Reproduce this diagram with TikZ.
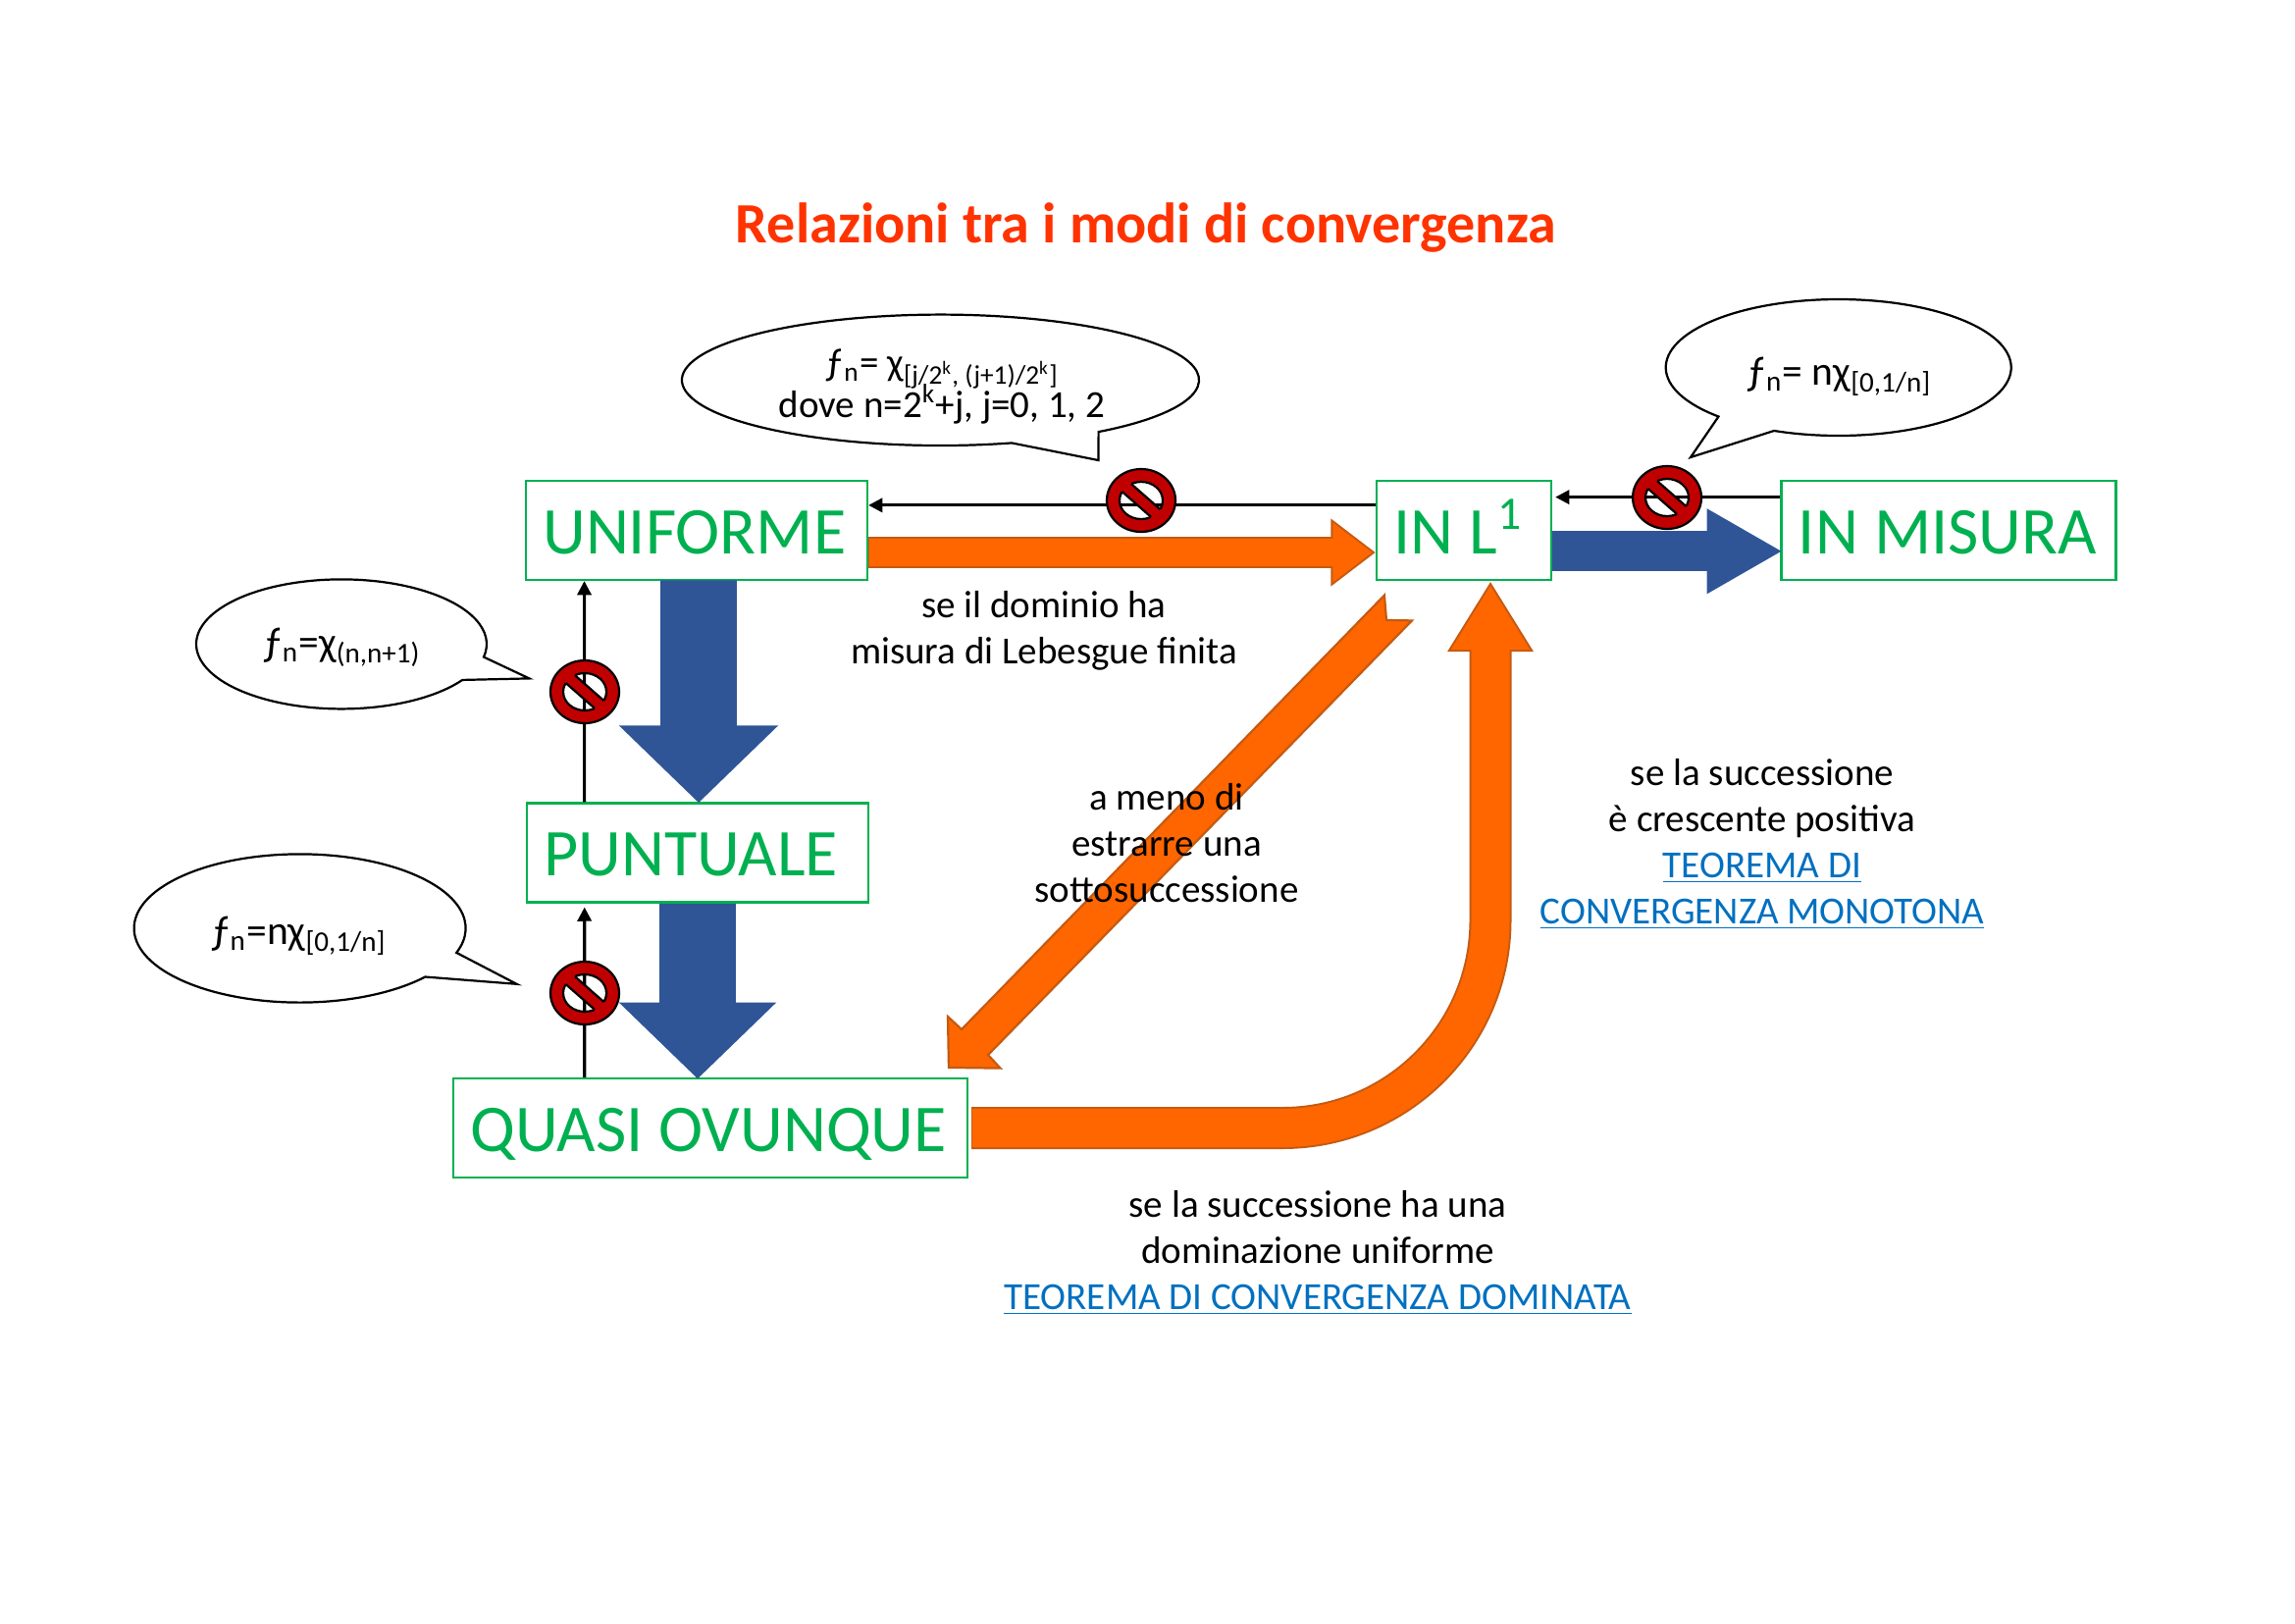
\documentclass[tikz,border=0pt]{standalone}
\usepackage{fontspec}
\setmainfont{Carlito}
\usepackage{tikz}
\usetikzlibrary{calc,arrows.meta}
\definecolor{verde}{HTML}{00B050}
\definecolor{rosso}{HTML}{FF3300}
\definecolor{blu}{HTML}{2F5597}
\definecolor{arancio}{HTML}{FF6600}
\definecolor{bordoarancio}{HTML}{C55A11}
\definecolor{divieto}{HTML}{C00000}
\definecolor{link}{HTML}{0070C0}
\def\spazio{\hspace{2.05mm}}
\def\fumetto(#1)(#2:#3:#4:#5)(#6){\draw[line width=0.8pt,fill=white] ($(#1)+({#2*cos(#4)},{#3*sin(#4)})$) arc[start angle=#4,end angle=#5,x radius=#2,y radius=#3] -- (#6) -- cycle;}
\def\segnodivieto(#1){\begin{scope}[shift={(#1)}]
	\draw[line width=0.8pt,fill=divieto,even odd rule] (0,0) ellipse (35 and 32) (0,0) ellipse (22 and 19);
	\fill[divieto] (-24,-13) -- (14,21) -- (24,13) -- (-14,-21) -- cycle;
	\draw[line width=0.8pt] (-19.4,-9) -- (10,16.8) (-10,-16.8) -- (19.4,9);
\end{scope}}
\tikzset{
	modo/.style={draw=verde,line width=0.8pt,text=verde,font=\fontsize{24.6}{29}\selectfont,align=left,inner xsep=2.2mm,inner ysep=0mm,minimum height=12.83mm,text height=6mm,text depth=0mm,text width=#1},
	testo/.style={align=center,font=\fontsize{14.1}{17}\selectfont},
	formula/.style={align=center,font=\fontsize{15}{18}\selectfont},
	freccina/.style={line width=1.1pt,-{Triangle[length=1.8mm,width=1.8mm]}},
	frecciablu/.style={blu,line width=#1},
	bordo/.style={bordoarancio},
	pieno/.style={arancio},
}
\begin{document}
\begin{tikzpicture}[x=0.127mm,y=-0.127mm]
	%%%%% START %%%%%
	\useasboundingbox (0,0) rectangle (2339,1654);
	
	\node[font=\fontsize{21}{25}\selectfont\bfseries,text=rosso] (titolo) at (1168,232) {Relazioni tra i modi di convergenza};
	
	\node[modo=39.8mm] (uniforme) at (710,540.5) {UNIFORME};
	\node[modo=18.2mm] (inlp) at (1492,540.5) {\mbox{IN\spazio L\textsuperscript{1}}};
	\node[modo=38.9mm] (misura) at (1986,540.5) {\mbox{IN\spazio MISURA}};
	\node[modo=39.8mm] (puntuale) at (711,869) {PUNTUALE};
	\node[modo=62.1mm] (quasi) at (724,1149.5) {\mbox{QUASI\spazio OVUNQUE}};
	
	% frecce sottili
	\draw[freccina] ([yshift=-3.3mm]inlp.north west) -- ([yshift=-3.3mm]uniforme.north east);
	\draw[freccina] ([yshift=-2.25mm]misura.north west) -- ([xshift=0.4mm,yshift=-2.25mm]inlp.north east);
	\draw[freccina] ([xshift=7.6mm]puntuale.north west) -- ([xshift=7.7mm]uniforme.south west);
	\draw[freccina] ([xshift=17.1mm]quasi.north west) -- ([xshift=7.6mm,yshift=-0.5mm]puntuale.south west);
	
	% frecce blu
	\draw[frecciablu=9.9mm,-{Triangle[length=10mm,width=20mm]}] ([xshift=0.25mm,yshift=0.1mm]uniforme.south) -- ([xshift=0.13mm,yshift=-0.1mm]puntuale.north);
	\draw[frecciablu=9.9mm,-{Triangle[length=9.9mm,width=19.8mm]}] (puntuale.south) -- ([yshift=-0.2mm]puntuale.south |- quasi.north);
	\draw[frecciablu=5.2mm,-{Triangle[length=9.8mm,width=10.3mm]}] ([yshift=-2.7mm]inlp.east) -- ([xshift=0.3mm,yshift=-2.7mm]misura.west);
	
	% frecce arancioni
	\draw[bordo,line width=4.06mm,-{Triangle[length=5.79mm,width=8.38mm]}] ([yshift=-2.86mm]uniforme.east) -- ([yshift=-2.86mm]inlp.west);
	\draw[pieno,line width=3.55mm,-{Triangle[length=5.1mm,width=7.38mm]},shorten >=0.43mm] ([xshift=0.1mm,yshift=-2.86mm]uniforme.east) -- ([yshift=-2.86mm]inlp.west);
	
	\draw[bordo,line width=5.46mm,rounded corners=26.9mm,-{Triangle[length=9.14mm,width=10.48mm]}] ([xshift=0.4mm]quasi.east) -| ([xshift=3.43mm]inlp.south);
	\draw[pieno,line width=4.95mm,rounded corners=26.9mm,-{Triangle[length=8.38mm,width=9.6mm]},shorten >=0.51mm] ([xshift=0.5mm]quasi.east) -| ([xshift=3.43mm]inlp.south);
	
	\draw[line width=0.8pt,draw=bordoarancio,fill=arancio] ([shift={(9,14.5)}]inlp.south west) -- (1413,632) -- (1439,632.4) -- (1007,1075) -- (1019.5,1088.6) -- ([shift={(-20,-10)}]quasi.north east) -- (966,1036) -- (980,1049) -- cycle;
	
	% fumetti
	\fumetto(958.5,387.3)(263.5:66.7:74:412.3)(1119.4,469)
	\fumetto(1873.7,374.5)(176:69.5:134:471.9)(1723,466)
	\fumetto(348,656.4)(148:66:33.6:371.5)(539.4,691.4)
	\fumetto(305.6,946)(169:75.6:40.9:379.2)(526.6,1002.8)
	
	\node[testo] (fumettoa) at (960,393.5) {ƒ\textsubscript{n}= χ\textsubscript{[j/2\textsuperscript{k}, (j+1)/2\textsuperscript{k}]}\\[-2.7pt]dove n=2\textsuperscript{k}+j, j=0, 1, 2};
	\node[formula] (fumettob) at (1874,384) {ƒ\textsubscript{n}= nχ\textsubscript{[0,1/n]}};
	\node[formula] (fumettoc) at (348,660) {ƒ\textsubscript{n}=χ\textsubscript{(n,n+1)}};
	\node[formula] (fumettod) at (304,954) {ƒ\textsubscript{n}=nχ\textsubscript{[0,1/n]}};
	
	% divieti
	\segnodivieto(1163,510)
	\segnodivieto(1699,507)
	\segnodivieto(596,705)
	\segnodivieto(596,1012)
	
	% testi
	\node[testo] (dominio) at (1064,643) {se il dominio ha\\misura di Lebesgue finita};
	\node[testo] (estrarre) at (1189,859) {a meno di\\estrarre una\\sottosuccessione};
	\node[testo] (crescente) at (1796,860.5) {se la successione\\è crescente positiva\\\textcolor{link}{\underline{TEOREMA DI}}\\\textcolor{link}{\underline{CONVERGENZA MONOTONA}}};
	\node[testo] (dominazione) at (1343,1277) {se la successione ha una\\dominazione uniforme\\\textcolor{link}{\underline{TEOREMA DI CONVERGENZA DOMINATA}}};
	%%%%% END %%%%%
\end{tikzpicture}
\end{document}
